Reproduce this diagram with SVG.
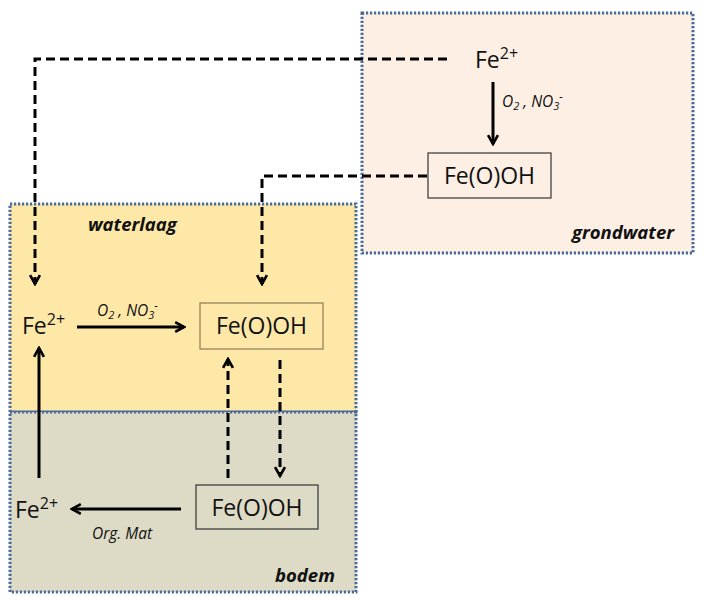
<svg xmlns="http://www.w3.org/2000/svg" width="710" height="599" viewBox="0 0 710 599">
<style>
.zone{stroke:#4a6a9a;stroke-width:3;stroke-dasharray:2.2 1.8}
.t{font-family:"Open Sans","Liberation Sans",sans-serif;font-size:23px;fill:#111}
.sup{font-size:16px}
.lab{font-family:"Open Sans","Liberation Sans",sans-serif;font-size:15.5px;font-style:italic;fill:#111}
.sub{font-size:11px}
.zl{font-family:"Open Sans","Liberation Sans",sans-serif;font-size:18.5px;font-style:italic;font-weight:bold;fill:#111}
.box{fill:none;stroke:#333;stroke-width:1.2}
.box2{fill:none;stroke:#8a7a50;stroke-width:1.2}
.solid{fill:none;stroke:#000;stroke-width:3}
.dash{fill:none;stroke:#000;stroke-width:3;stroke-dasharray:9 5}
</style>
<defs>
<marker id="ah" viewBox="0 0 12 12" refX="10" refY="6" markerWidth="4.4" markerHeight="4.4" orient="auto" markerUnits="strokeWidth">
<path d="M2,1.5 L10,6 L2,10.5" fill="none" stroke="#000" stroke-width="2.4"/>
</marker>
</defs>
<g id="zones">
<rect id="grondwater" class="zone" x="362" y="13" width="331" height="240" fill="#fdefe4"/>
<rect id="waterlaag" class="zone" x="10" y="204" width="346" height="208" fill="#fee8a8"/>
<rect id="bodem" class="zone" x="10" y="412" width="346" height="180" fill="#dddac6"/>
<text class="zl" x="88" y="231">waterlaag</text>
<text class="zl" x="572" y="239">grondwater</text>
<text class="zl" x="275" y="582">bodem</text>
</g>
<g id="connectors">
<path class="dash" d="M447,59 H35 V284" marker-end="url(#ah)"/>
<path class="dash" d="M427,176 H262 V284" marker-end="url(#ah)"/>
<path class="solid" d="M493,82 V144" marker-end="url(#ah)"/>
<path class="solid" d="M77,327 H184" marker-end="url(#ah)"/>
<path class="dash" d="M228,478 V359" marker-end="url(#ah)"/>
<path class="dash" d="M280,360 V476" marker-end="url(#ah)"/>
<path class="solid" d="M181,509 H72" marker-end="url(#ah)"/>
<path class="solid" d="M39,478 V348" marker-end="url(#ah)"/>
<text class="lab" x="502" y="107">O<tspan class="sub" dy="3">2</tspan><tspan dy="-3"> , NO</tspan><tspan class="sub" dy="3">3</tspan><tspan class="sub" dy="-10">-</tspan></text>
<text class="lab" x="97" y="316">O<tspan class="sub" dy="3">2</tspan><tspan dy="-3"> , NO</tspan><tspan class="sub" dy="3">3</tspan><tspan class="sub" dy="-10">-</tspan></text>
<text class="lab" x="92" y="539">Org. Mat</text>
</g>
<g id="fe2-grond"><text class="t" x="475" y="68">Fe<tspan class="sup" dy="-9">2+</tspan></text></g>
<g id="feooh-grond"><rect class="box" x="428" y="153" width="123" height="45"/><text class="t" x="489.5" y="184" text-anchor="middle">Fe(O)OH</text></g>
<g id="fe2-water"><text class="t" x="22" y="334">Fe<tspan class="sup" dy="-9">2+</tspan></text></g>
<g id="feooh-water"><rect class="box2" x="200" y="303" width="123" height="46"/><text class="t" x="261.5" y="334" text-anchor="middle">Fe(O)OH</text></g>
<g id="fe2-bodem"><text class="t" x="15" y="518">Fe<tspan class="sup" dy="-9">2+</tspan></text></g>
<g id="feooh-bodem"><rect class="box" x="196" y="485" width="122" height="44"/><text class="t" x="257" y="516" text-anchor="middle">Fe(O)OH</text></g>
</svg>
